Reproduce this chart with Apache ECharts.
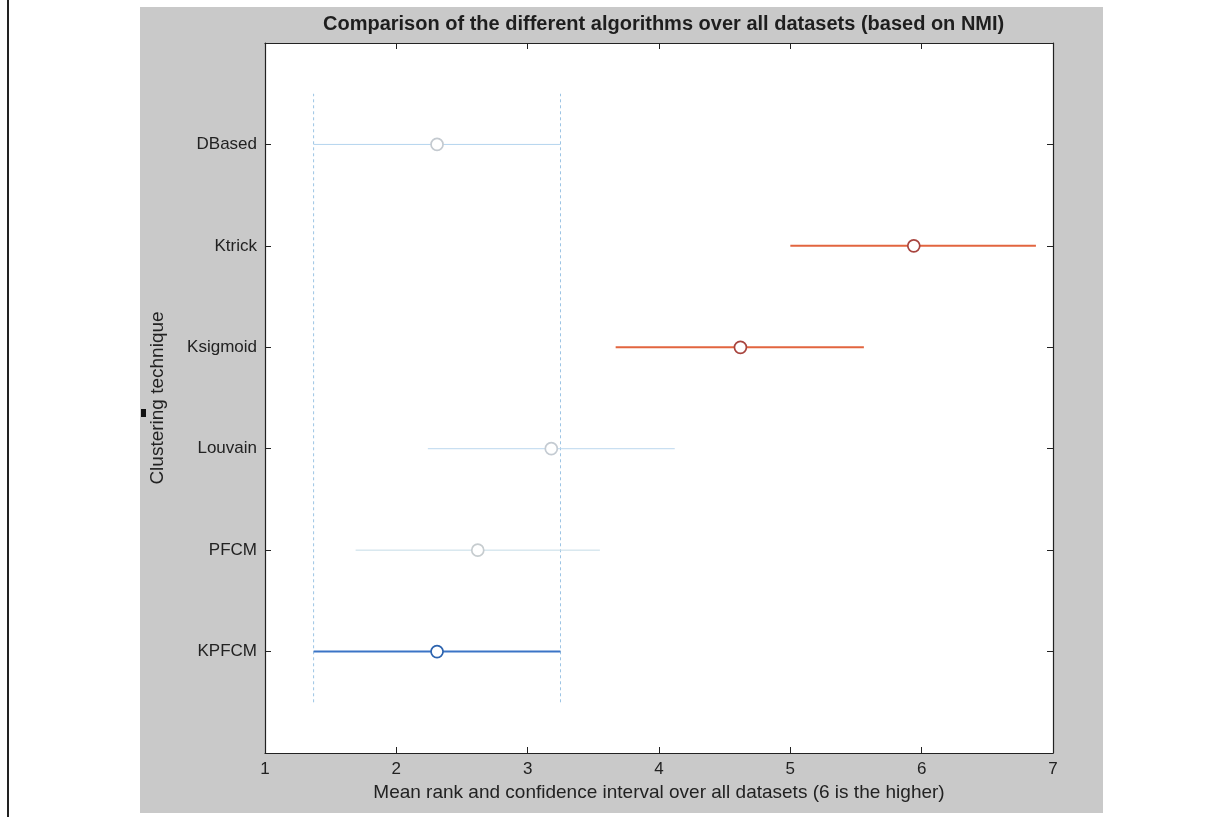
<!DOCTYPE html>
<html><head><meta charset="utf-8">
<script src="https://cdn.jsdelivr.net/npm/echarts@6/dist/echarts.min.js"></script>
<style>
html,body{margin:0;padding:0;background:#fff;width:1231px;height:817px;overflow:hidden}
#frame{position:absolute;left:140px;top:7px;width:963px;height:806px;background:#c9c9c9}
#edge{position:absolute;left:7px;top:0;width:2px;height:817px;background:#222}
#mark{position:absolute;left:141px;top:409px;width:5px;height:8px;background:#111}
#chart{position:absolute;left:0;top:0;width:1231px;height:817px}
</style></head><body>
<div id="edge"></div><div id="frame"></div><div id="mark"></div>
<div id="chart"></div>
<script>
// ---- data ----
const techniques = ['KPFCM', 'PFCM', 'Louvain', 'Ksigmoid', 'Ktrick', 'DBased'];
const meanRanks  = [2.31, 2.62, 3.18, 4.62, 5.94, 2.31];
const ciLow      = [1.37, 1.69, 2.24, 3.67, 5.00, 1.37];
const ciHigh     = [3.25, 3.55, 4.12, 5.56, 6.87, 3.25];
const xTicks     = [1, 2, 3, 4, 5, 6, 7];
const titleText  = 'Comparison of the different algorithms over all datasets (based on NMI)';
const xName      = 'Mean rank and confidence interval over all datasets (6 is the higher)';
const yName      = 'Clustering technique';

// ---- styles ----
const lineColors   = ['#3b74c6', '#c4dbe6', '#bcd7ee', '#e2653f', '#e2653f', '#b4d4ee'];
const circleColors = ['#2c63ae', '#c6cccf', '#c4cbd2', '#a8443e', '#a8443e', '#c4cad0'];
const lineWidths   = [2, 1, 1, 2, 2, 1];
const font = 'Liberation Sans, Arial, sans-serif';

const series = [];
// reference dashed lines from the selected technique (KPFCM)
[ciLow[0], ciHigh[0]].forEach(v => {
  series.push({
    type: 'line', data: [[v, 0.5], [v, 6.5]], symbol: 'none', silent: true,
    lineStyle: { color: '#9cc4e4', width: 1, type: [3, 3] }, z: 1
  });
});
techniques.forEach((t, i) => {
  series.push({
    type: 'line', name: t, data: [[ciLow[i], i + 1], [ciHigh[i], i + 1]], symbol: 'none',
    lineStyle: { color: lineColors[i], width: lineWidths[i] }, z: 2
  });
});
series.push({
  type: 'scatter', symbol: 'circle', symbolSize: 12, z: 3,
  data: meanRanks.map((m, i) => ({ value: [m, i + 1],
    itemStyle: { color: '#fff', opacity: 1, borderColor: circleColors[i], borderWidth: 1.7 } }))
});

const chart = echarts.init(document.getElementById('chart'));
const axisLine = { show: true, onZero: false, lineStyle: { color: '#222', width: 1.2 } };
const tick = { show: true, inside: true, length: 6, lineStyle: { color: '#222' } };
chart.setOption({
  animation: false,
  title: { text: titleText, left: 318, top: 9,
    textStyle: { fontFamily: font, fontSize: 20, fontWeight: 'bold', color: '#1e1e1e' } },
  grid: { left: 265, right: 178, top: 43, bottom: 64, show: true, backgroundColor: '#fff', borderWidth: 0 },
  xAxis: [
    { type: 'value', min: xTicks[0], max: xTicks[xTicks.length - 1], interval: 1, position: 'bottom',
      name: xName, nameLocation: 'middle', nameGap: 25,
      nameTextStyle: { fontFamily: font, fontSize: 19, color: '#222' },
      axisLine, axisTick: tick, splitLine: { show: false },
      axisLabel: { fontFamily: font, fontSize: 17, color: '#222', margin: 8 } },
    { type: 'value', min: xTicks[0], max: xTicks[xTicks.length - 1], interval: 1, position: 'top',
      axisLine, axisTick: tick, splitLine: { show: false }, axisLabel: { show: false } }
  ],
  yAxis: [
    { type: 'value', min: 0, max: techniques.length + 1, interval: 1, position: 'left',
      name: yName, nameLocation: 'middle', nameGap: 98, nameRotate: 90,
      nameTextStyle: { fontFamily: font, fontSize: 19, color: '#222' },
      axisLine, axisTick: tick, splitLine: { show: false },
      axisLabel: { fontFamily: font, fontSize: 17, color: '#222', margin: 8,
        formatter: v => techniques[v - 1] || '' } },
    { type: 'value', min: 0, max: techniques.length + 1, interval: 1, position: 'right',
      axisLine, axisTick: tick, splitLine: { show: false }, axisLabel: { show: false } }
  ],
  series
});
</script>
</body></html>
